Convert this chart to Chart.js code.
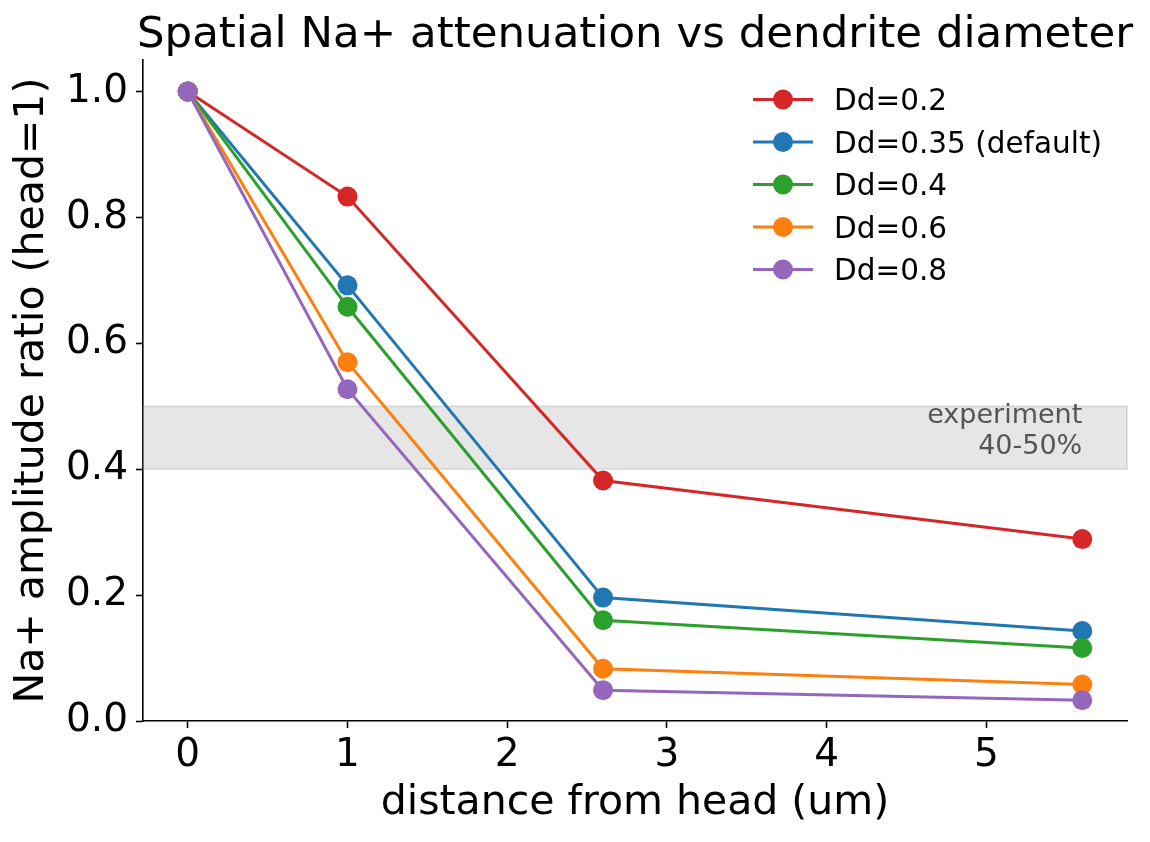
<!DOCTYPE html>
<html>
<head>
<meta charset="utf-8">
<script src="https://cdn.jsdelivr.net/npm/chart.js@4.4.1/dist/chart.umd.min.js"></script>
<style>
  html, body { margin: 0; padding: 0; background: #fff; }
  #wrap { width: 1150px; height: 842px; }
</style>
</head>
<body>
<div id="wrap"><canvas id="chart" width="1150" height="842"></canvas></div>
<script>
// distances (um) from spine head
const distances = [0, 1, 2.6, 5.6];

// Na+ amplitude ratio for each dendrite diameter
const dd02 = [1.0, 0.833, 0.382, 0.289];
const dd035 = [1.0, 0.692, 0.196, 0.143];
const dd04 = [1.0, 0.658, 0.160, 0.116];
const dd06 = [1.0, 0.570, 0.083, 0.058];
const dd08 = [1.0, 0.527, 0.049, 0.033];

const seriesLabels = ['Dd=0.2', 'Dd=0.35 (default)', 'Dd=0.4', 'Dd=0.6', 'Dd=0.8'];
const seriesValues = [dd02, dd035, dd04, dd06, dd08];
const seriesColors = ['#d62728', '#1f77b4', '#2ca02c', '#ff7f0e', '#9467bd'];

const xTicks = [0, 1, 2, 3, 4, 5];
const yTicks = [0, 0.2, 0.4, 0.6, 0.8, 1.0];

// experimental range shown as grey band
const bandLow = 0.4;
const bandHigh = 0.5;
const bandText = ['experiment', '40-50%'];

const chartTitle = 'Spatial Na+ attenuation vs dendrite diameter';
const FONT = "'DejaVu Sans', sans-serif";

const datasets = seriesLabels.map((label, i) => ({
    label: label,
    data: distances.map((d, j) => ({ x: d, y: seriesValues[i][j] })),
    borderColor: seriesColors[i],
    backgroundColor: seriesColors[i],
    borderWidth: 3,
    pointRadius: 10,
    pointHoverRadius: 10,
    pointBorderWidth: 0,
    tension: 0,
    order: seriesLabels.length - i  // last series on top, like matplotlib
}));

// grey band + annotation, behind the lines
const bandPlugin = {
    id: 'band',
    beforeDatasetsDraw(chart) {
        const { ctx, chartArea, scales } = chart;
        const y1 = scales.y.getPixelForValue(bandHigh);
        const y0 = scales.y.getPixelForValue(bandLow);
        ctx.save();
        ctx.fillStyle = 'rgba(128,128,128,0.2)';
        ctx.fillRect(chartArea.left, y1, chartArea.right - chartArea.left, y0 - y1);
        ctx.strokeStyle = 'rgba(128,128,128,0.2)';
        ctx.lineWidth = 2;
        ctx.strokeRect(chartArea.left, y1, chartArea.right - chartArea.left, y0 - y1);

        const tx = scales.x.getPixelForValue(5.6);
        const ty = scales.y.getPixelForValue(bandHigh);
        ctx.fillStyle = '#555555';
        ctx.font = '27px ' + FONT;
        ctx.textAlign = 'right';
        ctx.textBaseline = 'alphabetic';
        ctx.fillText(bandText[0], tx, ty + 17);
        ctx.fillText(bandText[1], tx, ty + 48);
        ctx.restore();
    }
};

// title centred over the axes (not the whole canvas), like matplotlib
const titlePlugin = {
    id: 'axesTitle',
    afterDraw(chart) {
        const { ctx, chartArea } = chart;
        ctx.save();
        ctx.font = '43.5px ' + FONT;
        ctx.fillStyle = '#000';
        ctx.textAlign = 'center';
        ctx.textBaseline = 'alphabetic';
        ctx.fillText(chartTitle, (chartArea.left + chartArea.right) / 2, 47);
        ctx.restore();
    }
};

// matplotlib-style legend: short line with marker
const legendPlugin = {
    id: 'mplLegend',
    afterDraw(chart) {
        const { ctx } = chart;
        ctx.save();
        ctx.font = '29.5px ' + FONT;
        ctx.textAlign = 'left';
        ctx.textBaseline = 'alphabetic';
        seriesLabels.forEach((label, i) => {
            const y = 99.5 + i * 42.5;
            ctx.strokeStyle = seriesColors[i];
            ctx.lineWidth = 3;
            ctx.beginPath();
            ctx.moveTo(753, y);
            ctx.lineTo(813, y);
            ctx.stroke();
            ctx.fillStyle = seriesColors[i];
            ctx.beginPath();
            ctx.arc(783, y, 10, 0, Math.PI * 2);
            ctx.fill();
            ctx.fillStyle = '#000';
            ctx.fillText(label, 834, y + 10.7);
        });
        ctx.restore();
    }
};

new Chart(document.getElementById('chart'), {
    type: 'line',
    data: { datasets: datasets },
    options: {
        responsive: false,
        devicePixelRatio: 1,
        animation: false,
        events: [],
        layout: { padding: { top: 60, right: 23, bottom: 0, left: 0 } },
        plugins: {
            legend: { display: false },
            tooltip: { enabled: false },
            title: { display: false }
        },
        scales: {
            x: {
                type: 'linear',
                min: -0.28,
                max: 5.88,
                afterBuildTicks: s => { s.ticks = xTicks.map(v => ({ value: v })); },
                afterFit: s => { s.height = 121; },
                grid: { drawOnChartArea: false, drawTicks: true, tickLength: 7, tickWidth: 1.6, color: '#000' },
                border: { display: true, color: '#000', width: 1.6 },
                ticks: {
                    color: '#000',
                    font: { family: FONT, size: 39 },
                    padding: 4,
                    maxRotation: 0,
                    callback: v => String(v)
                },
                title: {
                    display: true,
                    text: 'distance from head (um)',
                    color: '#000',
                    font: { family: FONT, size: 41, lineHeight: 1.2 },
                    padding: { top: 0, bottom: 14 }
                }
            },
            y: {
                type: 'linear',
                min: 0,
                max: 1.05,
                afterBuildTicks: s => { s.ticks = yTicks.map(v => ({ value: v })); },
                afterFit: s => { s.width = 143; },
                grid: { drawOnChartArea: false, drawTicks: true, tickLength: 7, tickWidth: 1.6, color: '#000' },
                border: { display: true, color: '#000', width: 1.6 },
                ticks: {
                    color: '#000',
                    font: { family: FONT, size: 39 },
                    padding: 8,
                    callback: v => v.toFixed(1)
                },
                title: {
                    display: true,
                    text: 'Na+ amplitude ratio (head=1)',
                    color: '#000',
                    font: { family: FONT, size: 41, lineHeight: 1.2 },
                    padding: { top: 8, bottom: 0 }
                }
            }
        }
    },
    plugins: [bandPlugin, titlePlugin, legendPlugin]
});
</script>
</body>
</html>
